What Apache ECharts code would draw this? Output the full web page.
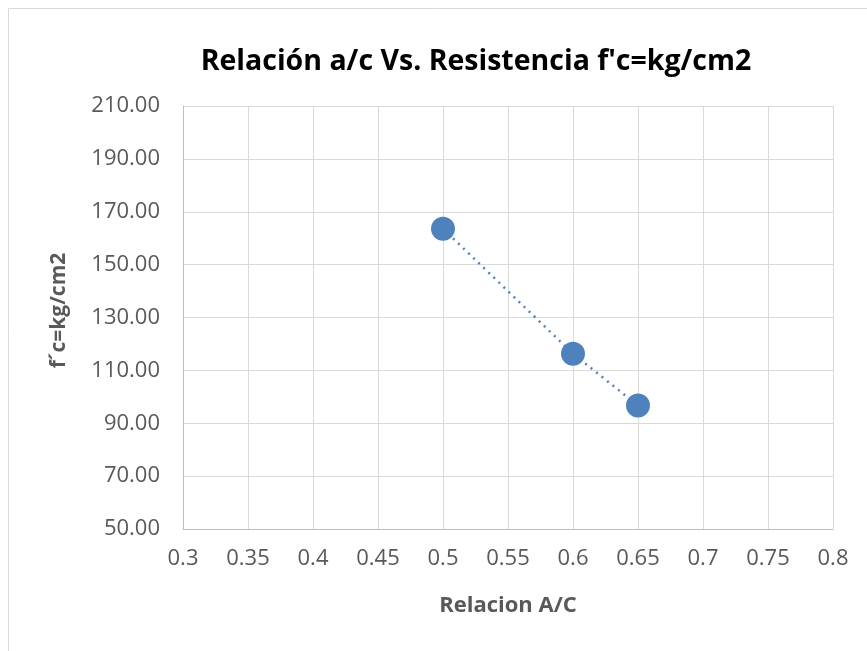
<!DOCTYPE html>
<html><head><meta charset="utf-8">
<script src="https://cdn.jsdelivr.net/npm/echarts@6/dist/echarts.min.js"></script>
<style>html,body{margin:0;padding:0;background:#fff}#c{width:867px;height:651px}</style>
</head><body><div id="c"></div>
<script>
const titleText = "Relación a/c Vs. Resistencia f'c=kg/cm2";
const xName = "Relacion A/C";
const yName = "f´c=kg/cm2";
const ratio = [0.5, 0.6, 0.65];
const strength = [163.6, 116.3, 96.7];
const xTicks = [0.3, 0.35, 0.4, 0.45, 0.5, 0.55, 0.6, 0.65, 0.7, 0.75, 0.8];
const yTicks = [50, 70, 90, 110, 130, 150, 170, 190, 210];

const chart = echarts.init(document.getElementById('c'), null, {renderer: 'canvas'});
const font = "'Open Sans', 'Liberation Sans', sans-serif";
chart.setOption({
  animation: false,
  backgroundColor: '#fff',
  graphic: [
    {type: 'line', shape: {x1: 8.5, y1: 8.5, x2: 8.5, y2: 651}, style: {stroke: '#d9d9d9', lineWidth: 1}},
    {type: 'line', shape: {x1: 8.5, y1: 8.5, x2: 867, y2: 8.5}, style: {stroke: '#d9d9d9', lineWidth: 1}}
  ],
  title: {
    text: titleText, left: 471, top: 42, textAlign: 'center',
    textStyle: {fontFamily: font, fontWeight: 'bold', fontSize: 28.5, color: '#000'}
  },
  grid: {left: 183, right: 34, top: 106, bottom: 122, containLabel: false},
  xAxis: {
    type: 'value', min: xTicks[0], max: xTicks[xTicks.length - 1], interval: 0.05,
    name: xName, nameLocation: 'middle', nameGap: 66,
    nameTextStyle: {fontFamily: font, fontWeight: 'bold', fontSize: 22, color: '#595959'},
    axisLine: {show: true, lineStyle: {color: '#bfbfbf', width: 1}},
    axisTick: {show: false},
    axisLabel: {fontFamily: font, fontSize: 22, color: '#595959', margin: 19,
      formatter: v => String(Math.round(v * 100) / 100)},
    splitLine: {show: true, lineStyle: {color: '#d9d9d9', width: 1}}
  },
  yAxis: {
    type: 'value', min: yTicks[0], max: yTicks[yTicks.length - 1], interval: 20,
    name: yName, nameLocation: 'middle', nameGap: 113, nameRotate: 90,
    nameTextStyle: {fontFamily: font, fontWeight: 'bold', fontSize: 21, color: '#595959', padding: [0, 0, 0, 14]},
    axisLine: {show: true, lineStyle: {color: '#bfbfbf', width: 1}},
    axisTick: {show: false},
    axisLabel: {fontFamily: font, fontSize: 22, color: '#595959', margin: 23,
      formatter: v => v.toFixed(2)},
    splitLine: {show: true, lineStyle: {color: '#d9d9d9', width: 1}}
  },
  series: [{
    type: 'line',
    data: ratio.map((x, i) => [x, strength[i]]),
    symbol: 'circle', symbolSize: 24,
    itemStyle: {color: '#4f81bd'},
    lineStyle: {color: '#4f81bd', width: 2.5, type: [2, 5]}
  }]
});
</script></body></html>
